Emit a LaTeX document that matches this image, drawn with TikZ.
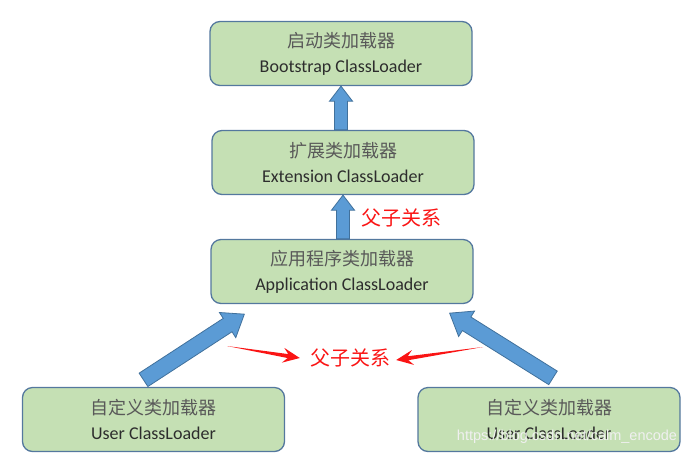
\documentclass[tikz,border=0pt]{standalone}
\usepackage{fontspec}
\setmainfont{Carlito}
\newfontfamily\cjk{Noto Sans CJK SC}
\newfontfamily\urlfont{Liberation Sans}
\usetikzlibrary{calc}
\definecolor{loadergreen}{RGB}{197,224,180}
\definecolor{loaderedge}{RGB}{84,120,158}
\definecolor{arrowblue}{RGB}{91,155,213}
\definecolor{arrowedge}{RGB}{65,113,156}
\definecolor{labelred}{RGB}{250,20,20}
\definecolor{cjkgray}{RGB}{89,89,89}
\definecolor{engdark}{RGB}{45,45,45}

% block arrow: style, shaft half width, head half width, head length, from, to
\newcommand{\blockarrow}[6]{%
  \coordinate (hb) at ($(#6)!#4!(#5)$);
  \draw[#1] ($(#5)!#2!90:(#6)$) -- ($(hb)!#2!90:(#6)$) -- ($(hb)!#3!90:(#6)$) -- (#6)
    -- ($(hb)!#3!-90:(#6)$) -- ($(hb)!#2!-90:(#6)$) -- ($(#5)!#2!-90:(#6)$) -- cycle;}
% thin red arrow, tapered from its tail
\newcommand{\wedgearrow}[2]{%
  \coordinate (hb) at ($(#2)!17pt!(#1)$);
  \coordinate (hi) at ($(#2)!12pt!(#1)$);
  \fill[labelred] (#1) -- ($(hi)!2pt!90:(#2)$) -- ($(hb)!7.5pt!90:(#2)$) -- (#2)
    -- ($(hb)!7.5pt!-90:(#2)$) -- ($(hi)!2pt!-90:(#2)$) -- cycle;}

\begin{document}
\begin{tikzpicture}[x=1pt, y=-1pt,
    loader/.style={rectangle, rounded corners=10pt, draw=loaderedge, fill=loadergreen,
        line width=1.3pt, minimum width=262pt, minimum height=64pt, align=center,
        font=\fontsize{18}{25}\selectfont, text=engdark},
    blk/.style={fill=arrowblue, draw=arrowedge, line width=0.8pt, line join=miter},
    rel/.style={font=\cjk\fontsize{20}{22}\selectfont, text=labelred, inner sep=0pt}
]
\useasboundingbox (0,0) rectangle (698,456);

% Loaders
\node[loader] (boot) at (341,53.5) {{\cjk\color{cjkgray}启动类加载器}\\Bootstrap ClassLoader};
\node[loader] (ext) at (343,162.5) {{\cjk\color{cjkgray}扩展类加载器}\\Extension ClassLoader};
\node[loader] (app) at (342,271.5) {{\cjk\color{cjkgray}应用程序类加载器}\\Application ClassLoader};
\node[loader] (user1) at (153.5,419.5) {{\cjk\color{cjkgray}自定义类加载器}\\User ClassLoader};
\node[loader] (user2) at (549,419.5) {{\cjk\color{cjkgray}自定义类加载器}\\User ClassLoader};

% Parent arrows
\coordinate (t1) at (ext.north -| boot.south);
\coordinate (t2) at (app.north -| ext.south);
\blockarrow{blk}{6.5pt}{11.5pt}{15pt}{t1}{boot.south}
\blockarrow{blk}{6.5pt}{11.5pt}{15pt}{t2}{ext.south}
\coordinate (t3) at ($(user1.north)+(-10,-7)$);
\coordinate (h3) at ($(app.south west)+(34,10)$);
\coordinate (t4) at ($(user2.north)+(4,-9)$);
\coordinate (h4) at ($(app.south east)+(-24,9)$);
\blockarrow{blk}{8pt}{15pt}{20pt}{t3}{h3}
\blockarrow{blk}{8pt}{15pt}{20pt}{t4}{h4}

% Labels
\node[rel] (rel1) at (401,218) {父子关系};
\node[rel] (rel2) at (350,358) {父子关系};
\coordinate (r1) at (227,346);
\coordinate (r2) at (483,347);
\wedgearrow{r1}{$(rel2.west)+(-10,0)$}
\wedgearrow{r2}{$(rel2.east)+(6,2)$}

% Watermark
\node[font=\urlfont\fontsize{14.5}{16}\selectfont, text=white!88!gray, inner sep=0pt] (mark) at (567,437) {https://blog.csdn.net/calm\_encode};
\end{tikzpicture}
\end{document}
